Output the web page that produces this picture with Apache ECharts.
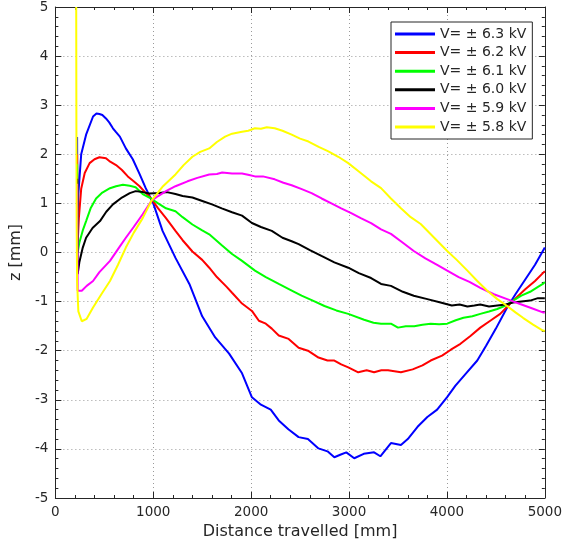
<!DOCTYPE html>
<html>
<head>
<meta charset="utf-8">
<script src="https://cdn.jsdelivr.net/npm/echarts@6/dist/echarts.min.js"></script>
<style>html,body{margin:0;padding:0;background:#fff;}#c{width:565px;height:553px;}</style>
</head>
<body>
<div id="c"></div>
<script>
const seriesNames = ['V= \u00b1 6.3 kV','V= \u00b1 6.2 kV','V= \u00b1 6.1 kV','V= \u00b1 6.0 kV','V= \u00b1 5.9 kV','V= \u00b1 5.8 kV'];
const seriesColors = ['#0000ff','#ff0000','#00ff00','#000000','#ff00ff','#ffff00'];

const xBlue = [222,226,235,264,314,385,420,450,480,517,550,588,620,659,720,791,862,923,970,1000,1095,1227,1369,1500,1633,1775,1907,2008,2100,2200,2282,2380,2485,2580,2688,2780,2850,2910,2972,3053,3150,3256,3320,3428,3530,3600,3700,3800,3900,4000,4087,4200,4310,4400,4500,4615,4700,4800,4900,4980,5000];
const zBlue = [2.35,0.5,1.2,2.0,2.4,2.77,2.83,2.82,2.80,2.73,2.65,2.53,2.45,2.36,2.12,1.9,1.59,1.31,1.12,1.0,0.44,-0.11,-0.64,-1.3,-1.73,-2.06,-2.46,-2.95,-3.1,-3.2,-3.42,-3.6,-3.76,-3.8,-3.99,-4.05,-4.17,-4.12,-4.07,-4.19,-4.1,-4.07,-4.15,-3.88,-3.92,-3.8,-3.55,-3.35,-3.2,-2.95,-2.71,-2.45,-2.2,-1.9,-1.55,-1.12,-0.85,-0.55,-0.25,0.03,0.1];

const xRed = [222,228,240,264,300,350,400,450,517,560,620,680,740,800,860,920,970,1050,1130,1227,1300,1400,1500,1572,1650,1750,1805,1907,2008,2079,2150,2211,2282,2383,2485,2580,2688,2780,2850,2920,2992,3094,3180,3256,3330,3398,3530,3650,3750,3834,3950,4040,4138,4240,4341,4450,4544,4676,4800,4900,4980,5000];
const zRed = [2.0,0.2,0.7,1.3,1.62,1.82,1.9,1.94,1.92,1.85,1.78,1.68,1.55,1.45,1.35,1.22,1.12,0.9,0.7,0.44,0.25,0.02,-0.15,-0.31,-0.5,-0.7,-0.82,-1.04,-1.19,-1.39,-1.45,-1.55,-1.69,-1.76,-1.94,-2.0,-2.14,-2.2,-2.2,-2.28,-2.34,-2.44,-2.40,-2.44,-2.40,-2.40,-2.44,-2.38,-2.3,-2.2,-2.1,-1.98,-1.86,-1.7,-1.53,-1.38,-1.25,-0.98,-0.75,-0.58,-0.42,-0.38];

const xGreen = [222,228,245,280,314,360,416,480,558,620,690,760,820,892,960,1050,1130,1227,1300,1400,1500,1572,1700,1805,1907,2039,2150,2282,2400,2515,2630,2749,2870,2992,3154,3250,3327,3428,3500,3580,3666,3750,3834,3920,4003,4090,4169,4260,4341,4430,4514,4600,4676,4760,4850,4930,4980,5000];
const zGreen = [1.8,0.0,0.2,0.45,0.64,0.9,1.1,1.22,1.31,1.35,1.38,1.36,1.33,1.19,1.12,1.0,0.9,0.84,0.72,0.57,0.45,0.37,0.15,-0.03,-0.17,-0.37,-0.5,-0.64,-0.76,-0.88,-0.98,-1.09,-1.18,-1.25,-1.37,-1.43,-1.45,-1.45,-1.53,-1.5,-1.50,-1.47,-1.45,-1.46,-1.45,-1.38,-1.33,-1.3,-1.25,-1.2,-1.15,-1.08,-0.98,-0.88,-0.8,-0.7,-0.64,-0.6];

const xBlack = [222,228,245,280,314,380,456,520,588,680,760,820,892,960,1065,1140,1227,1300,1400,1501,1600,1700,1805,1907,2008,2100,2211,2320,2414,2485,2600,2718,2850,2992,3100,3225,3327,3428,3550,3661,3800,3935,4050,4130,4209,4280,4341,4430,4514,4600,4676,4760,4850,4930,5000];
const zBlack = [1.5,-0.44,-0.2,0.1,0.3,0.5,0.64,0.83,0.98,1.12,1.21,1.25,1.23,1.2,1.21,1.23,1.19,1.15,1.12,1.05,0.98,0.9,0.82,0.75,0.6,0.52,0.44,0.3,0.23,0.17,0.05,-0.07,-0.2,-0.31,-0.42,-0.52,-0.64,-0.68,-0.8,-0.88,-0.95,-1.02,-1.08,-1.06,-1.1,-1.08,-1.06,-1.1,-1.08,-1.06,-1.02,-1.0,-0.98,-0.93,-0.93];

const xMagenta = [222,228,270,320,385,450,558,640,720,800,892,980,1050,1130,1227,1350,1450,1572,1650,1704,1805,1907,1980,2039,2120,2241,2330,2414,2517,2617,2720,2820,2920,3022,3120,3225,3327,3428,3550,3661,3780,3900,4003,4120,4230,4341,4480,4615,4747,4860,4980,5000];
const zMagenta = [1.4,-0.78,-0.78,-0.68,-0.58,-0.4,-0.17,0.07,0.3,0.52,0.78,1.05,1.15,1.25,1.35,1.45,1.52,1.59,1.6,1.63,1.61,1.61,1.58,1.55,1.55,1.49,1.42,1.37,1.29,1.21,1.1,1.0,0.9,0.8,0.7,0.6,0.47,0.38,0.2,0.03,-0.12,-0.25,-0.37,-0.5,-0.6,-0.72,-0.85,-0.95,-1.05,-1.13,-1.22,-1.22];

const xYellow = [213,215,218,222,235,270,284,320,385,470,558,640,720,800,892,980,1100,1227,1310,1400,1480,1572,1650,1734,1805,1907,1970,2039,2100,2160,2241,2320,2414,2500,2586,2690,2789,2890,2992,3100,3225,3327,3428,3530,3630,3732,3870,4003,4100,4209,4310,4412,4515,4615,4700,4777,4880,4980,5000];
const zYellow = [5.0,2.5,0.5,-0.6,-1.2,-1.4,-1.43,-1.35,-1.12,-0.85,-0.58,-0.25,0.1,0.4,0.7,1.05,1.35,1.59,1.78,1.95,2.05,2.12,2.25,2.36,2.42,2.46,2.48,2.53,2.52,2.55,2.53,2.48,2.40,2.32,2.26,2.15,2.06,1.95,1.82,1.65,1.45,1.31,1.1,0.9,0.72,0.58,0.3,0.03,-0.15,-0.37,-0.58,-0.78,-0.95,-1.09,-1.22,-1.33,-1.47,-1.59,-1.6];

const xTicks = [0,1000,2000,3000,4000,5000];
const yTicks = [-5,-4,-3,-2,-1,0,1,2,3,4,5];

const xs = [xBlue,xRed,xGreen,xBlack,xMagenta,xYellow];
const zs = [zBlue,zRed,zGreen,zBlack,zMagenta,zYellow];

const txt = '#262626';
const font = 'DejaVu Sans';
const axisCommon = {
  axisLine: {show: true, onZero: false, lineStyle: {color: txt, width: 1}},
  axisTick: {show: true, inside: true, length: 6, lineStyle: {color: txt}},
  minorTick: {show: true, splitNumber: 5, length: 3, lineStyle: {color: txt}},
};

const chart = echarts.init(document.getElementById('c'), null, {renderer: 'canvas'});
chart.setOption({
  animation: false,
  backgroundColor: '#ffffff',
  grid: {left: 52, right: 20, top: 5, bottom: 55, containLabel: false},
  legend: {
    orient: 'vertical', left: 391, top: 22,
    data: seriesNames,
    icon: 'rect', itemWidth: 40, itemHeight: 3, itemGap: 4.6,
    backgroundColor: '#ffffff', borderColor: txt, borderWidth: 1,
    padding: [5, 6, 5, 4],
    textStyle: {fontFamily: font, fontSize: 14, color: txt, lineHeight: 14},
    itemStyle: {borderWidth: 0}
  },
  xAxis: [
    Object.assign({
      type: 'value', min: 0, max: 5000, interval: 1000, position: 'bottom',
      name: 'Distance travelled [mm]', nameLocation: 'middle', nameGap: 20,
      nameTextStyle: {fontFamily: font, fontSize: 16, color: txt},
      axisLabel: {fontFamily: font, fontSize: 13.5, color: txt, margin: 7,
        formatter: v => xTicks.includes(v) ? String(v) : ''},
      splitLine: {show: true, lineStyle: {type: [1, 3], color: '#9a9a9a', width: 1}}
    }, axisCommon),
    Object.assign({
      type: 'value', min: 0, max: 5000, interval: 1000, position: 'top',
      axisLabel: {show: false}, splitLine: {show: false}
    }, axisCommon)
  ],
  yAxis: [
    Object.assign({
      type: 'value', min: -5, max: 5, interval: 1, position: 'left',
      name: 'z [mm]', nameLocation: 'middle', nameGap: 30,
      nameTextStyle: {fontFamily: font, fontSize: 16, color: txt},
      axisLabel: {fontFamily: font, fontSize: 13.5, color: txt, margin: 7,
        formatter: v => yTicks.includes(v) ? String(v) : ''},
      splitLine: {show: true, lineStyle: {type: [1, 3], color: '#9a9a9a', width: 1}}
    }, axisCommon),
    Object.assign({
      type: 'value', min: -5, max: 5, interval: 1, position: 'right',
      axisLabel: {show: false}, splitLine: {show: false}
    }, axisCommon)
  ],
  series: seriesNames.map((n, i) => ({
    name: n, type: 'line', showSymbol: false, symbol: 'none',
    xAxisIndex: 0, yAxisIndex: 0,
    color: seriesColors[i],
    lineStyle: {color: seriesColors[i], width: 2},
    data: xs[i].map((x, j) => [x, zs[i][j]])
  }))
});
</script>
</body>
</html>
